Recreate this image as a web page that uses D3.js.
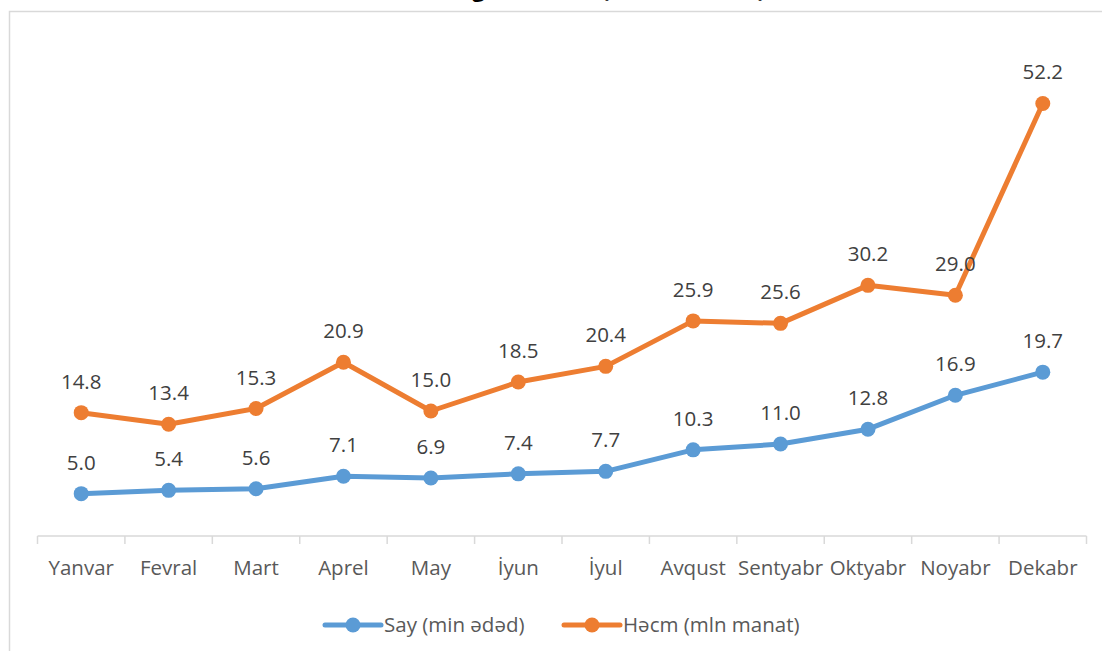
<!DOCTYPE html>
<html>
<head>
<meta charset="utf-8">
<script src="https://cdn.jsdelivr.net/npm/d3@7"></script>
<style>
  body { margin: 0; background: #fff; }
  svg { display: block; font-family: "Open Sans", sans-serif; }
</style>
</head>
<body>
<div id="my_dataviz"></div>
<script>
var months = ["Yanvar", "Fevral", "Mart", "Aprel", "May", "İyun", "İyul", "Avqust", "Sentyabr", "Oktyabr", "Noyabr", "Dekabr"];
var sayValues = [5.0, 5.4, 5.6, 7.1, 6.9, 7.4, 7.7, 10.3, 11.0, 12.8, 16.9, 19.7];
var hecmValues = [14.8, 13.4, 15.3, 20.9, 15.0, 18.5, 20.4, 25.9, 25.6, 30.2, 29.0, 52.2];
var seriesNames = ["Say (min ədəd)", "Həcm (mln manat)"];
var title = "Elektron ödəmələr üzrə əsas göstəricilər (2021-ci il üzrə)";

var width = 1102, height = 651;

var svg = d3.select("#my_dataviz")
    .append("svg")
    .attr("width", width)
    .attr("height", height);

// chart frame (cropped by the picture on the right and bottom)
svg.append("rect")
    .attr("x", 9.5)
    .attr("y", 11.5)
    .attr("width", 1200)
    .attr("height", 700)
    .attr("fill", "none")
    .attr("stroke", "#d9d9d9")
    .attr("stroke-width", 1.5);

// title sits mostly above the picture, as in the source
svg.append("text")
    .attr("x", 460)
    .attr("y", -3)
    .attr("text-anchor", "middle")
    .style("font-size", "22px")
    .style("font-weight", "bold")
    .style("fill", "#000")
    .text(title);

var x = d3.scaleBand()
    .domain(months)
    .range([37.5, 1086.5])
    .padding(0);

var y = d3.scaleLinear()
    .domain([0, 60])
    .range([535, 39]);

var cx = function(m) { return x(m) + x.bandwidth() / 2; };

// category axis
var axis = svg.append("g");
axis.append("line")
    .attr("x1", x.range()[0])
    .attr("x2", x.range()[1])
    .attr("y1", y(0) + 1)
    .attr("y2", y(0) + 1)
    .attr("stroke", "#d9d9d9")
    .attr("stroke-width", 1.5);

var bounds = months.map(function(m) { return x(m); }).concat([x.range()[1]]);
axis.selectAll(".tick-mark")
    .data(bounds)
    .enter()
    .append("line")
    .attr("x1", function(d) { return d; })
    .attr("x2", function(d) { return d; })
    .attr("y1", y(0) + 1)
    .attr("y2", y(0) + 9)
    .attr("stroke", "#d9d9d9")
    .attr("stroke-width", 1.5);

axis.selectAll(".cat")
    .data(months)
    .enter()
    .append("text")
    .attr("x", cx)
    .attr("y", y(0) + 40)
    .attr("text-anchor", "middle")
    .style("font-size", "20.5px")
    .style("fill", "#595959")
    .text(function(d) { return d; });

var series = [
    { name: seriesNames[0], values: sayValues, color: "#5b9bd5" },
    { name: seriesNames[1], values: hecmValues, color: "#ed7d31" }
];

var line = d3.line()
    .x(function(d, i) { return cx(months[i]); })
    .y(function(d) { return y(d); });

series.forEach(function(s) {
    var g = svg.append("g");
    g.append("path")
        .datum(s.values)
        .attr("d", line)
        .attr("fill", "none")
        .attr("stroke", s.color)
        .attr("stroke-width", 5)
        .attr("stroke-linejoin", "round");
    g.selectAll("circle")
        .data(s.values)
        .enter()
        .append("circle")
        .attr("cx", function(d, i) { return cx(months[i]); })
        .attr("cy", function(d) { return y(d); })
        .attr("r", 7.5)
        .attr("fill", s.color);
    g.selectAll(".lbl")
        .data(s.values)
        .enter()
        .append("text")
        .attr("x", function(d, i) { return cx(months[i]); })
        .attr("y", function(d) { return y(d) - 24; })
        .attr("text-anchor", "middle")
        .style("font-size", "20.5px")
        .style("fill", "#404040")
        .text(function(d) { return d.toFixed(1); });
});

// legend
var legendX = [325, 564];
series.forEach(function(s, i) {
    var lg = svg.append("g").attr("transform", "translate(" + legendX[i] + ",625)");
    lg.append("line")
        .attr("x1", 0).attr("x2", 56)
        .attr("y1", 0).attr("y2", 0)
        .attr("stroke", s.color)
        .attr("stroke-width", 5)
        .attr("stroke-linecap", "round");
    lg.append("circle")
        .attr("cx", 28).attr("cy", 0).attr("r", 7.5)
        .attr("fill", s.color);
    lg.append("text")
        .attr("x", 59)
        .attr("y", 7)
        .style("font-size", "20.5px")
        .style("fill", "#595959")
        .text(s.name);
});
</script>
</body>
</html>
